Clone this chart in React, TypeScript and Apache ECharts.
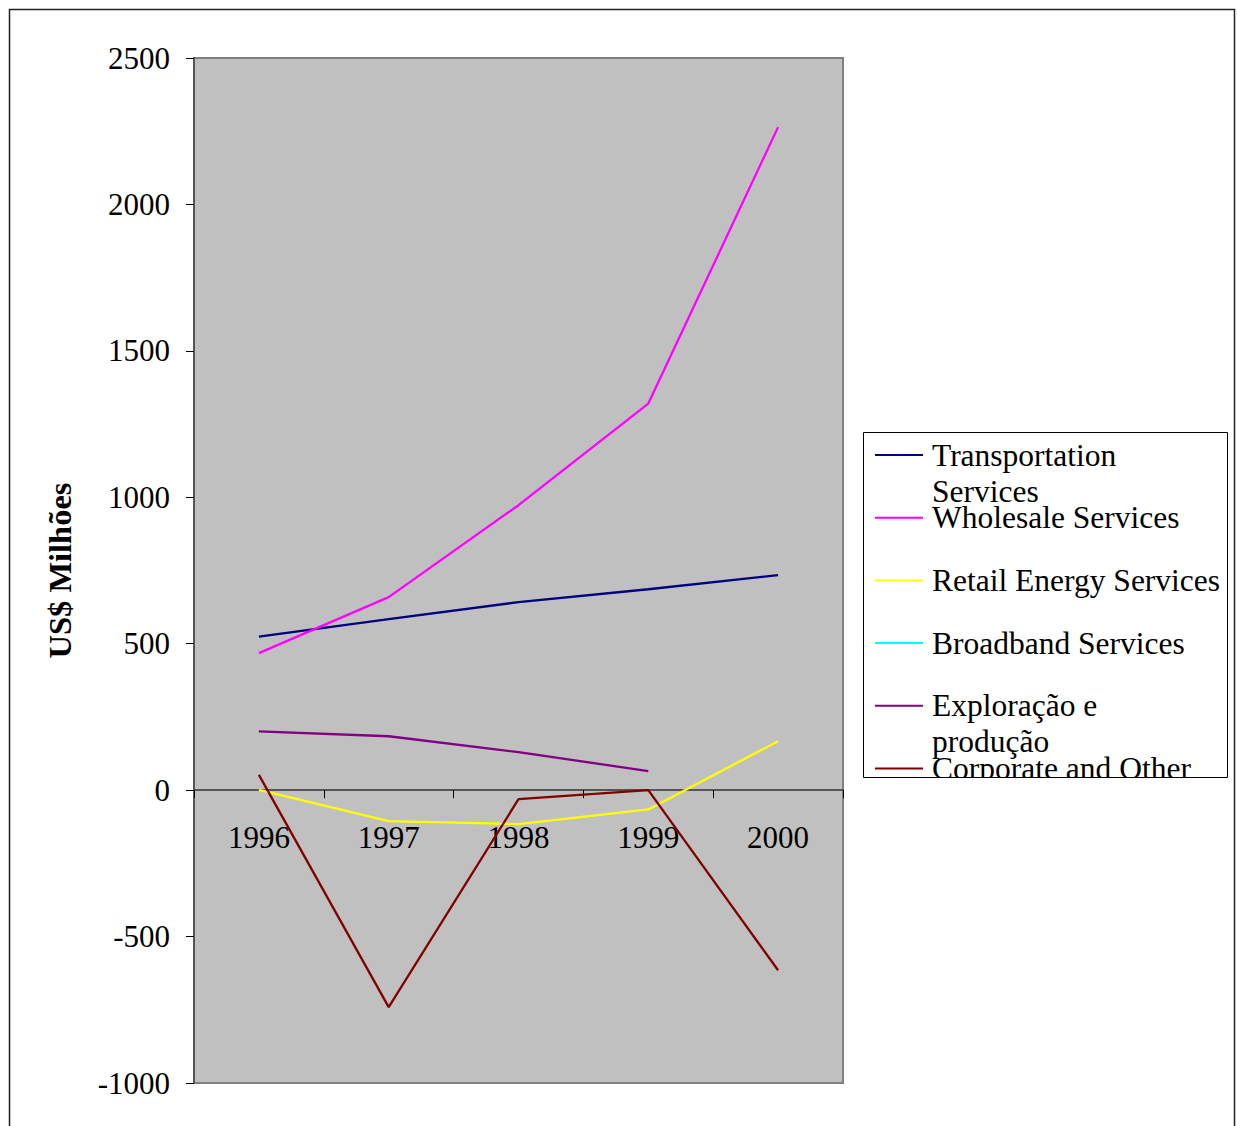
import React, { useEffect, useRef } from "react";
import * as echarts from "echarts";

const years = ["1996", "1997", "1998", "1999", "2000"];
const seriesNames = [
  "Transportation Services",
  "Wholesale Services",
  "Retail Energy Services",
  "Broadband Services",
  "Exploração e produção",
  "Corporate and Other",
];
const legendLabels = [
  "Transportation\nServices",
  "Wholesale Services",
  "Retail Energy Services",
  "Broadband Services",
  "Exploração e\nprodução",
  "Corporate and Other",
];
const seriesColors = ["#000080", "#FF00FF", "#FFFF00", "#00FFFF", "#800080", "#800000"];

const transportation = [524, 584, 642, 686, 734];
const wholesale = [468, 659, 973, 1320, 2264];
const retail = [1, -106, -116, -66, 167];
const broadband: (number | null)[] = [null, null, null, null, null];
const exploracao: (number | null)[] = [201, 184, 130, 65, null];
const corporate = [52, -741, -31, 0, -615];
const seriesData = [transportation, wholesale, retail, broadband, exploracao, corporate];

const yMin = -1000;
const yMax = 2500;
const yInterval = 500;
const yAxisName = "US$ Milhões";

const FONT = "'Liberation Serif', 'Times New Roman', serif";

export default function App() {
  const ref = useRef<HTMLDivElement>(null);

  useEffect(() => {
    document.body.style.margin = "0";
    document.body.style.overflow = "hidden";
    if (!ref.current) return;
    const chart = echarts.init(ref.current, undefined, { renderer: "svg" });

    const gridTop = 58;
    const gridHeight = 1025;
    const zeroOffset = -((0 - yMin) / (yMax - yMin)) * gridHeight;

    const legendX = 863;
    const legendY = 432;
    const legendW = 364;
    const legendH = 345;
    const firstY = 455;
    const step = 62.7;

    const legendEls: any[] = [];
    legendEls.push({
      type: "rect",
      z: 10,
      shape: { x: legendX, y: legendY, width: legendW, height: legendH },
      style: { fill: "#fff", stroke: null },
    });
    seriesNames.forEach((_, i) => {
      const cy = firstY + i * step;
      legendEls.push({
        type: "line",
        z: 11,
        shape: { x1: 875, y1: cy, x2: 923, y2: cy },
        style: { stroke: seriesColors[i], lineWidth: 2 },
      });
      legendEls.push({
        type: "text",
        z: 11,
        x: 932,
        y: cy - 18,
        style: {
          text: legendLabels[i],
          font: `31.5px ${FONT}`,
          fill: "#000",
          lineHeight: 36,
          verticalAlign: "top",
          align: "left",
        },
      });
    });
    legendEls.push({
      type: "rect",
      z: 12,
      shape: { x: legendX - 1, y: legendY + legendH, width: legendW + 2, height: 30 },
      style: { fill: "#fff", stroke: null },
    });
    legendEls.push({
      type: "rect",
      z: 13,
      shape: { x: legendX + 0.5, y: legendY + 0.5, width: legendW, height: legendH },
      style: { fill: null, stroke: "#000", lineWidth: 1 },
    });

    chart.setOption({
      animation: false,
      backgroundColor: "#fff",
      grid: {
        left: 194,
        top: gridTop,
        width: 649,
        height: gridHeight,
        show: true,
        backgroundColor: "#C0C0C0",
        borderColor: "#808080",
        borderWidth: 2,
        containLabel: false,
        outerBoundsMode: "none",
      },
      xAxis: {
        type: "category",
        data: years,
        boundaryGap: true,
        position: "bottom",
        offset: zeroOffset,
        axisLine: { show: true, onZero: false, lineStyle: { color: "#555", width: 2 } },
        axisTick: { show: true, alignWithLabel: false, length: 8, lineStyle: { color: "#000", width: 1 } },
        axisLabel: { color: "#000", fontFamily: FONT, fontSize: 31, margin: 32 },
        splitLine: { show: false },
      },
      yAxis: {
        type: "value",
        min: yMin,
        max: yMax,
        interval: yInterval,
        name: yAxisName,
        nameLocation: "middle",
        nameRotate: 90,
        nameGap: 118,
        nameTextStyle: { color: "#000", fontFamily: FONT, fontSize: 32.5, fontWeight: "bold" },
        axisLine: { show: true, lineStyle: { color: "#555", width: 2 } },
        axisTick: { show: true, length: 8, lineStyle: { color: "#000", width: 1 } },
        axisLabel: {
          color: "#000",
          fontFamily: FONT,
          fontSize: 31,
          margin: 24,
          formatter: (v: number) => String(v),
        },
        splitLine: { show: false },
      },
      series: seriesNames.map((name, i) => ({
        name,
        type: "line",
        data: seriesData[i],
        symbol: "none",
        lineStyle: { color: seriesColors[i], width: 2.3 },
        itemStyle: { color: seriesColors[i] },
        connectNulls: false,
      })),
      graphic: [
        {
          type: "rect",
          z: 20,
          shape: { x: 9.5, y: 9.5, width: 1225, height: 1140 },
          style: { fill: null, stroke: "#222", lineWidth: 1.5 },
          silent: true,
        },
        ...legendEls,
      ],
    });
    return () => chart.dispose();
  }, []);

  return <div ref={ref} style={{ width: 1237, height: 1126 }} />;
}
